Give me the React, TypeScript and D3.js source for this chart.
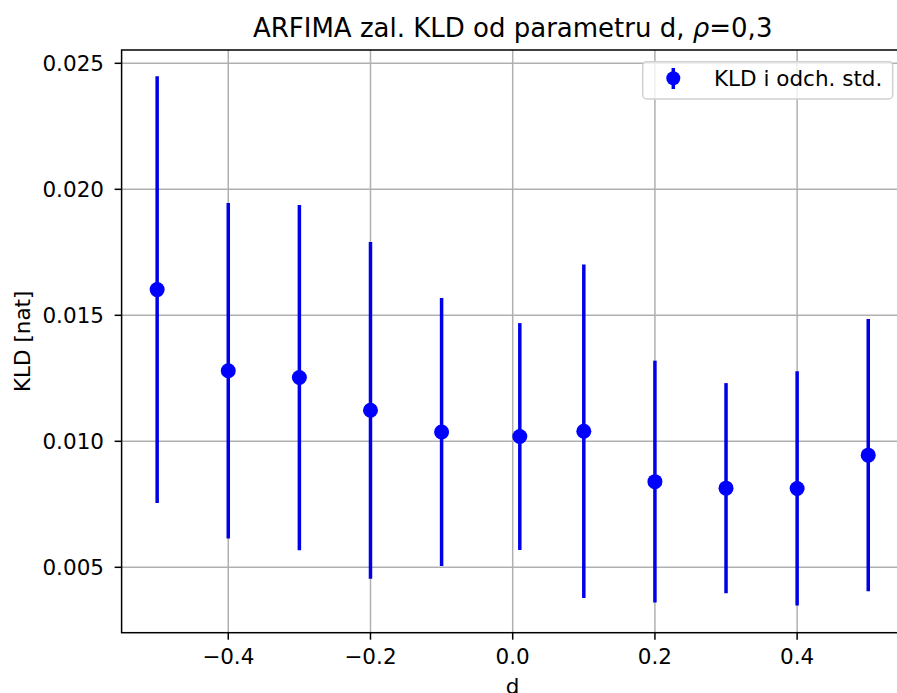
import React from "react";
import * as d3 from "d3";

const dValues = [-0.5, -0.4, -0.3, -0.2, -0.1, 0.01, 0.1, 0.2, 0.3, 0.4, 0.5];
const kldMean = [0.01602, 0.01280, 0.01253, 0.01123, 0.01037, 0.01019, 0.01040, 0.00840, 0.00814, 0.00813, 0.00945];
const kldStd = [0.00847, 0.00666, 0.00685, 0.00668, 0.00532, 0.00450, 0.00662, 0.00480, 0.00417, 0.00465, 0.00540];
const xTicks = [-0.4, -0.2, 0.0, 0.2, 0.4];
const yTicks = [0.005, 0.01, 0.015, 0.02, 0.025];
const titleText = "ARFIMA zal. KLD od parametru d, ";
const legendLabel = "KLD i odch. std.";

const W = 897;
const H = 693;
const L = 121.6;
const R = 903.8;
const T = 50;
const B = 632.7;
const FONT = "DejaVu Sans, sans-serif";
const FS = 21.5;

export default function App() {
  const x = d3.scaleLinear().domain([-0.55, 0.55]).range([L, R]);
  const y = d3.scaleLinear().domain([0.002405, 0.025528]).range([B, T]);
  const fmtX = (v: number) => d3.format(".1f")(v).replace("-", "\u2212");
  const fmtY = d3.format(".3f");
  const blue = "#0000ff";
  return (
    <svg
      width={W}
      height={H}
      style={{ position: "absolute", left: 0, top: 0, background: "#fff" }}
      fontFamily={FONT}
    >
      <rect x={0} y={0} width={W} height={H} fill="#fff" />
      <defs>
        <clipPath id="plotclip">
          <rect x={L} y={T} width={R - L} height={B - T} />
        </clipPath>
      </defs>
      <g stroke="#b0b0b0" strokeWidth={1.5}>
        {xTicks.map((t) => (
          <line key={"gx" + t} x1={x(t)} x2={x(t)} y1={T} y2={B} />
        ))}
        {yTicks.map((t) => (
          <line key={"gy" + t} x1={L} x2={R} y1={y(t)} y2={y(t)} />
        ))}
      </g>
      <g clipPath="url(#plotclip)">
        {dValues.map((d, i) => (
          <line
            key={"e" + i}
            x1={x(d)}
            x2={x(d)}
            y1={y(kldMean[i] - kldStd[i])}
            y2={y(kldMean[i] + kldStd[i])}
            stroke="#0000e6"
            strokeWidth={3.5}
          />
        ))}
        {dValues.map((d, i) => (
          <circle key={"p" + i} cx={x(d)} cy={y(kldMean[i])} r={7.5} fill={blue} />
        ))}
      </g>
      <rect x={L} y={T} width={R - L} height={B - T} fill="none" stroke="#000" strokeWidth={1.5} />
      <g>
        {xTicks.map((t) => (
          <g key={"xt" + t}>
            <line x1={x(t)} x2={x(t)} y1={B} y2={B + 7} stroke="#000" strokeWidth={1.5} />
            <text x={x(t)} y={664} fontSize={FS} textAnchor="middle" fill="#000">
              {fmtX(t)}
            </text>
          </g>
        ))}
      </g>
      <g>
        {yTicks.map((t) => (
          <g key={"yt" + t}>
            <line x1={L - 7} x2={L} y1={y(t)} y2={y(t)} stroke="#000" strokeWidth={1.5} />
            <text x={104} y={y(t) + 7.5} fontSize={FS} textAnchor="end" fill="#000">
              {fmtY(t)}
            </text>
          </g>
        ))}
      </g>
      <text x={(L + R) / 2} y={694} fontSize={FS} textAnchor="middle" fill="#000">
        d
      </text>
      <text
        transform={`translate(${30},${(T + B) / 2}) rotate(-90)`}
        fontSize={FS}
        textAnchor="middle"
        fill="#000"
      >
        KLD [nat]
      </text>
      <text x={(L + R) / 2} y={37} fontSize={26} textAnchor="middle" fill="#000">
        {titleText}
        <tspan fontStyle="italic">ρ</tspan>
        {"=0,3"}
      </text>
      <g>
        <rect
          x={642.7}
          y={61.7}
          width={250}
          height={37.3}
          rx={4}
          fill="#fff"
          fillOpacity={0.8}
          stroke="#d0d0d0"
          strokeWidth={1.5}
        />
        <line x1={673.3} x2={673.3} y1={68} y2={89} stroke="#0000e6" strokeWidth={3.5} />
        <circle cx={673.3} cy={78.3} r={7} fill={blue} />
        <text x={714} y={86} fontSize={FS} fill="#000">
          {legendLabel}
        </text>
      </g>
    </svg>
  );
}
